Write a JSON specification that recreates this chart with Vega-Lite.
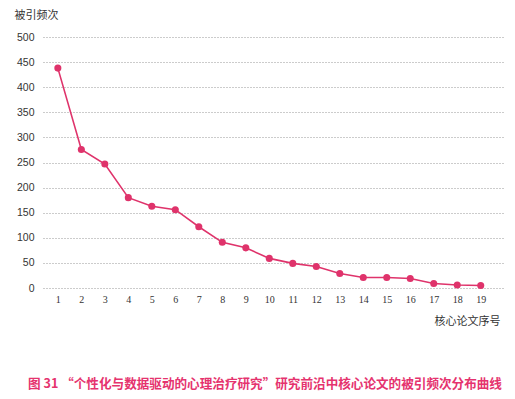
{
  "$schema": "https://vega.github.io/schema/vega-lite/v6.json",
  "width": 460,
  "height": 251,
  "autosize": {"type": "none"},
  "padding": {"left": 43, "top": 37, "right": 12, "bottom": 111},
  "background": "white",
  "title": {
    "text": "图 31 “个性化与数据驱动的心理治疗研究”研究前沿中核心论文的被引频次分布曲线",
    "orient": "bottom",
    "anchor": "start",
    "frame": "group",
    "dx": -15,
    "offset": 52,
    "font": "Noto Sans CJK SC",
    "fontSize": 12.6,
    "fontWeight": "bold",
    "color": "#e5336e"
  },
  "data": {
    "values": [
      {"n": 1, "v": 438}, {"n": 2, "v": 276}, {"n": 3, "v": 247}, {"n": 4, "v": 180},
      {"n": 5, "v": 163}, {"n": 6, "v": 156}, {"n": 7, "v": 122}, {"n": 8, "v": 91},
      {"n": 9, "v": 80}, {"n": 10, "v": 59}, {"n": 11, "v": 49}, {"n": 12, "v": 43},
      {"n": 13, "v": 29}, {"n": 14, "v": 21}, {"n": 15, "v": 21}, {"n": 16, "v": 19},
      {"n": 17, "v": 9}, {"n": 18, "v": 6}, {"n": 19, "v": 5}
    ]
  },
  "config": {"view": {"stroke": null}},
  "encoding": {
    "x": {
      "field": "n", "type": "ordinal",
      "scale": {"type": "point", "padding": 0.79, "align": 0.4},
      "axis": {
        "title": "核心论文序号", "labelAngle": 0, "domain": false, "ticks": false,
        "labelPadding": 6, "labelFont": "Liberation Serif", "labelFontSize": 10, "labelColor": "#333",
        "titleFont": "Noto Sans CJK SC", "titleFontSize": 11, "titleFontWeight": "normal", "titleColor": "#333",
        "titleAlign": "right", "titleX": 457, "titleY": 33, "titleBaseline": "middle"
      }
    },
    "y": {
      "field": "v", "type": "quantitative",
      "scale": {"domain": [0, 500]},
      "axis": {
        "title": "被引频次", "values": [0, 50, 100, 150, 200, 250, 300, 350, 400, 450, 500],
        "domain": false, "ticks": false, "labelPadding": 9,
        "labelFont": "Liberation Sans", "labelFontSize": 10.5, "labelColor": "#333",
        "grid": true, "gridColor": "#999", "gridDash": [1, 2], "gridWidth": 1,
        "titleFont": "Noto Sans CJK SC", "titleFontSize": 11, "titleFontWeight": "normal", "titleColor": "#333",
        "titleAngle": 0, "titleAlign": "left", "titleBaseline": "middle", "titleX": -29, "titleY": -22
      }
    }
  },
  "layer": [
    {"mark": {"type": "line", "color": "#df336b", "strokeWidth": 1.6}},
    {"mark": {"type": "point", "filled": true, "color": "#df336b", "size": 50, "opacity": 1}}
  ]
}
